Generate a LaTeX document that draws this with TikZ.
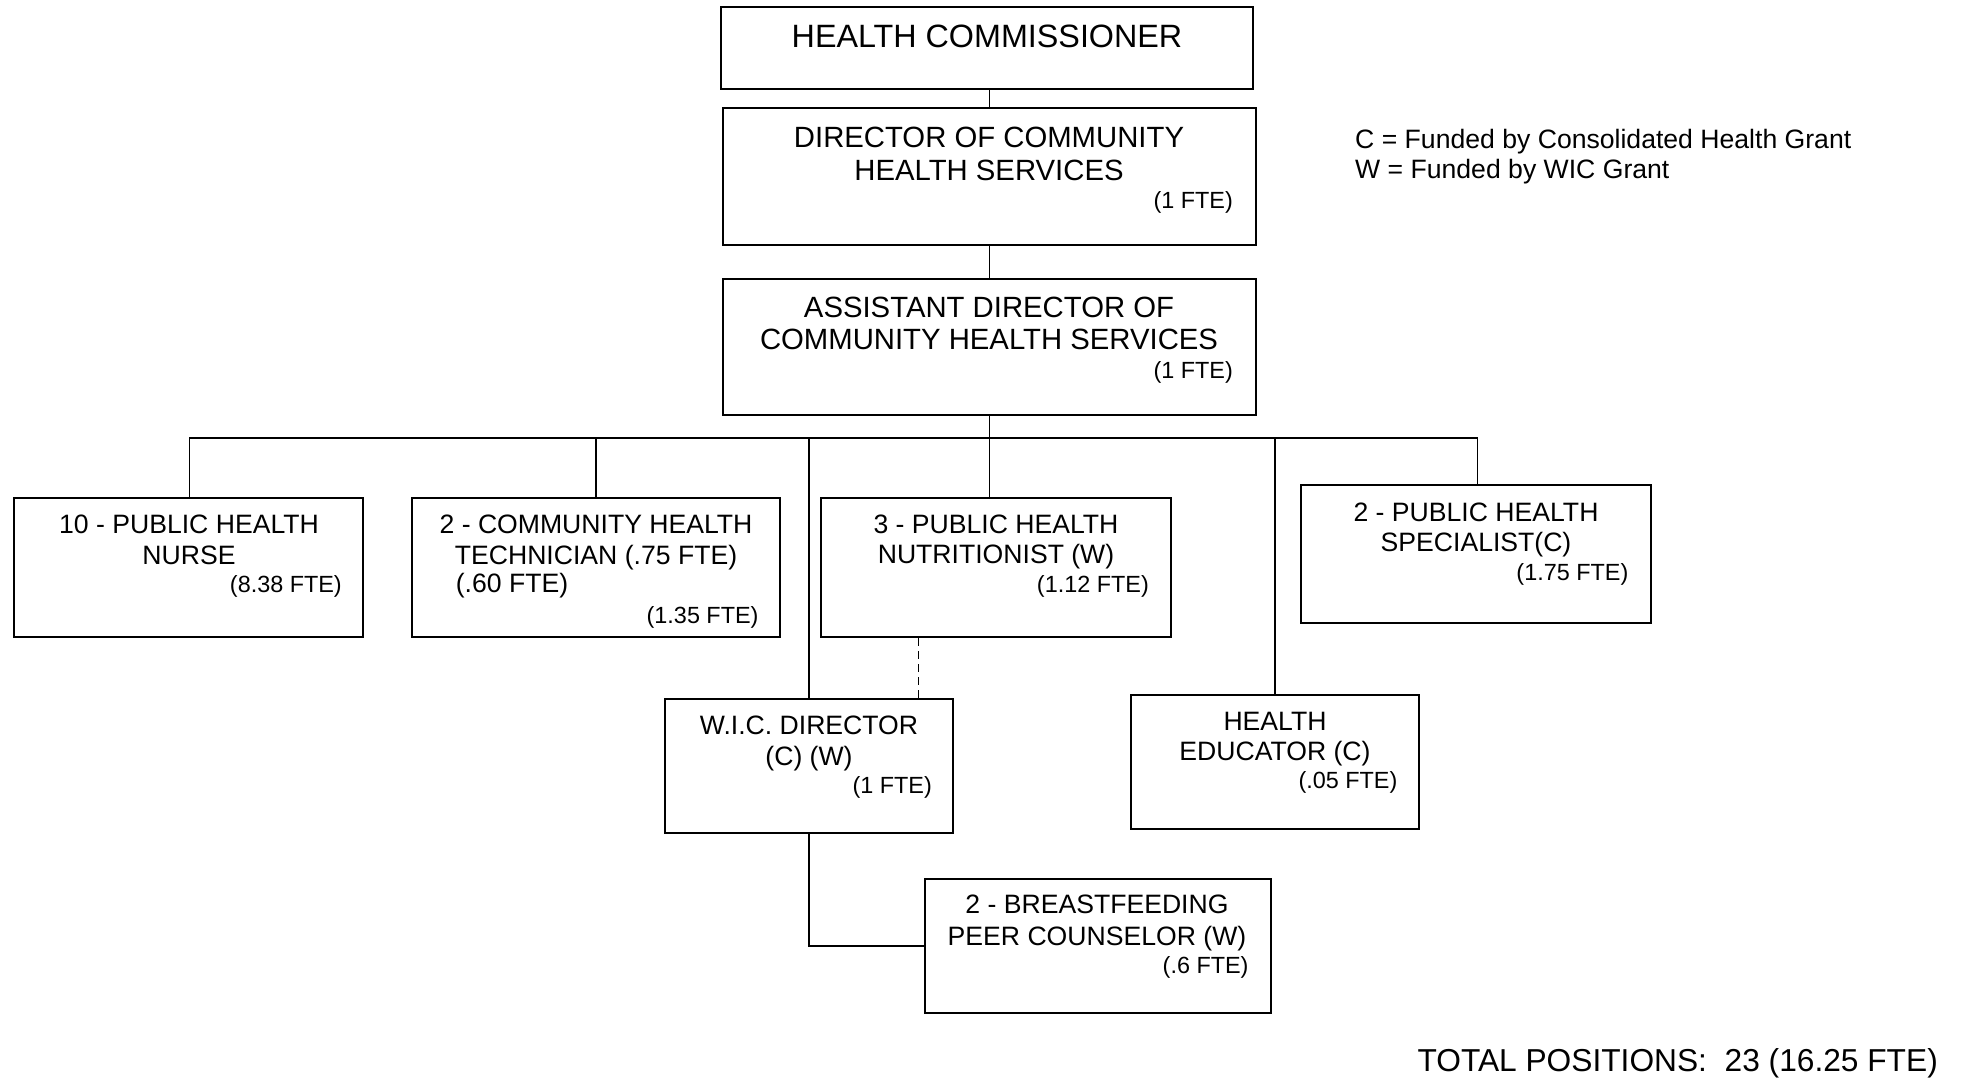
\documentclass[tikz,border=0pt]{standalone}
\usepackage{fontspec}
\setmainfont{Liberation Sans}
\tikzset{
  box/.style={draw, line width=2pt, inner sep=0pt},
  ln/.style={line width=1.6pt},
  dashln/.style={line width=1.6pt, dash pattern=on 8pt off 5pt},
  hcT/.style={inner sep=0pt, anchor=base, font=\fontsize{32.3}{36}\selectfont},
  bigT/.style={inner sep=0pt, anchor=base, font=\fontsize{29.3}{32}\selectfont},
  midT/.style={inner sep=0pt, anchor=base, font=\fontsize{26.6}{30}\selectfont},
  smT/.style={inner sep=0pt, anchor=base east, font=\fontsize{23.4}{26}\selectfont},
  legT/.style={inner sep=0pt, anchor=base west, font=\fontsize{26.6}{30}\selectfont},
  totT/.style={inner sep=0pt, anchor=base east, font=\fontsize{31.7}{34}\selectfont}
}
\begin{document}
\begin{tikzpicture}[x=1pt,y=-1pt]
\useasboundingbox (0,0) rectangle (1965,1079);
\fill[white] (0,0) rectangle (1965,1079);

% boxes
\node[box, minimum width=532.6pt, minimum height=82pt] (hc) at (987,48) {};
\node[box, minimum width=532.7pt, minimum height=136.5pt] (dir) at (989.4,176.7) {};
\node[box, minimum width=532.7pt, minimum height=136pt] (asst) at (989.4,346.5) {};
\node[box, minimum width=349.6pt, minimum height=139pt] (nurse) at (188.6,567.5) {};
\node[box, minimum width=368pt, minimum height=139pt] (tech) at (596,567.5) {};
\node[box, minimum width=350pt, minimum height=139pt] (nutr) at (996,567.5) {};
\node[box, minimum width=350pt, minimum height=138pt] (spec) at (1475.7,554) {};
\node[box, minimum width=288pt, minimum height=134pt] (wic) at (809,766) {};
\node[box, minimum width=288pt, minimum height=134pt] (he) at (1275,762) {};
\node[box, minimum width=346pt, minimum height=134.5pt] (bf) at (1098,945.8) {};

% bus coordinates
\coordinate (busL) at (189.3,437.7);
\coordinate (busR) at (1477.5,437.7);
\coordinate (dashx) at (918.6,0);

% connectors
\draw[ln] (dir.north |- hc.south) -- (dir.north);
\draw[ln] (dir.south) -- (asst.north);
\draw[ln] (asst.south) -- (asst.south |- nutr.north);
\draw[ln] (busL) -- (busR);
\draw[ln] (busL) -- (busL |- nurse.north);
\draw[ln] (tech.north |- busL) -- (tech.north);
\draw[ln] (wic.north |- busL) -- (wic.north);
\draw[ln] (he.north |- busL) -- (he.north);
\draw[ln] (busR) -- (busR |- spec.north);
\draw[dashln] (nutr.south -| dashx) -- (wic.north -| dashx);
\draw[ln] (wic.south) |- (bf.west);

% texts
\node[hcT] (hc-t) at (987,47) {HEALTH COMMISSIONER};

\node[bigT] (dir-t1) at (989,147) {DIRECTOR OF COMMUNITY};
\node[bigT] (dir-t2) at (989,180) {HEALTH SERVICES};
\node[smT] (dir-f) at (1233,208.5) {(1 FTE)};

\node[bigT] (asst-t1) at (989,317) {ASSISTANT DIRECTOR OF};
\node[bigT] (asst-t2) at (989,349.5) {COMMUNITY HEALTH SERVICES};
\node[smT] (asst-f) at (1233,378.5) {(1 FTE)};

\node[midT] (nurse-t1) at (189,533) {10 - PUBLIC HEALTH};
\node[midT] (nurse-t2) at (189,564) {NURSE};
\node[smT] (nurse-f) at (342,592) {(8.38 FTE)};

\node[midT] (tech-t1) at (596,533) {2 - COMMUNITY HEALTH};
\node[midT] (tech-t2) at (596,564) {TECHNICIAN (.75 FTE)};
\node[midT, anchor=base west] (tech-t3) at (455.6,592.5) {(.60 FTE)};
\node[smT] (tech-f) at (758.7,623) {(1.35 FTE)};

\node[midT] (nutr-t1) at (996,533) {3 - PUBLIC HEALTH};
\node[midT] (nutr-t2) at (996,563.5) {NUTRITIONIST (W)};
\node[smT] (nutr-f) at (1149,592) {(1.12 FTE)};

\node[midT] (spec-t1) at (1476,521.5) {2 - PUBLIC HEALTH};
\node[midT] (spec-t2) at (1476,551) {SPECIALIST(C)};
\node[smT] (spec-f) at (1628.5,580) {(1.75 FTE)};

\node[midT] (wic-t1) at (809,734) {W.I.C. DIRECTOR};
\node[midT] (wic-t2) at (809,765) {(C) (W)};
\node[smT] (wic-f) at (932,793) {(1 FTE)};

\node[midT] (he-t1) at (1275,730.7) {HEALTH};
\node[midT] (he-t2) at (1275,760) {EDUCATOR (C)};
\node[smT] (he-f) at (1397.5,788.5) {(.05 FTE)};

\node[midT] (bf-t1) at (1097,913.3) {2 - BREASTFEEDING};
\node[midT] (bf-t2) at (1097,945) {PEER COUNSELOR (W)};
\node[smT] (bf-f) at (1248.7,973) {(.6 FTE)};

% legend and total
\node[legT] (leg1) at (1355,148) {C = Funded by Consolidated Health Grant};
\node[legT] (leg2) at (1355,178) {W = Funded by WIC Grant};
\node[totT] (total) at (1938,1071) {TOTAL POSITIONS:\ \ 23 (16.25 FTE)};
\end{tikzpicture}
\end{document}
